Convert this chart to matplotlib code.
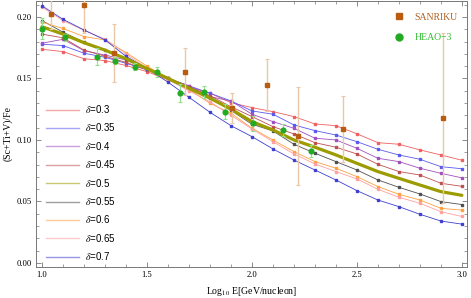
import matplotlib
matplotlib.use("Agg")
import matplotlib.pyplot as plt
from matplotlib.lines import Line2D
from matplotlib.ticker import MultipleLocator, FormatStrFormatter

plt.rcParams["font.family"] = "Liberation Serif"
plt.rcParams["mathtext.fontset"] = "stix"

# ---------------- data ----------------
log_e = [1.0, 1.1, 1.2, 1.3, 1.4, 1.5, 1.6, 1.7, 1.8, 1.9, 2.0,
         2.1, 2.2, 2.3, 2.4, 2.5, 2.6, 2.7, 2.8, 2.9, 3.0]

d030 = [0.1737, 0.1718, 0.1660, 0.1645, 0.1605, 0.1555, 0.1490, 0.1430, 0.1380, 0.1303, 0.1263,
        0.1230, 0.1190, 0.1130, 0.1116, 0.1050, 0.0978, 0.0965, 0.0919, 0.0878, 0.0835]
d035 = [0.1778, 0.1767, 0.1705, 0.1672, 0.1623, 0.1570, 0.1500, 0.1440, 0.1380, 0.1317, 0.1236,
        0.1209, 0.1122, 0.1076, 0.1040, 0.0986, 0.0924, 0.0878, 0.0843, 0.0783, 0.0766]
d040 = [0.1786, 0.1818, 0.1726, 0.1690, 0.1650, 0.1580, 0.1500, 0.1440, 0.1352, 0.1317, 0.1209,
        0.1149, 0.1095, 0.1014, 0.1000, 0.0932, 0.0851, 0.0824, 0.0770, 0.0729, 0.0692]
d045 = [0.1860, 0.1830, 0.1730, 0.1680, 0.1630, 0.1570, 0.1500, 0.1430, 0.1360, 0.1270, 0.1190,
        0.1108, 0.1049, 0.0978, 0.0941, 0.0886, 0.0802, 0.0743, 0.0715, 0.0648, 0.0623]
d050 = [0.1920, 0.1860, 0.1790, 0.1730, 0.1660, 0.1580, 0.1500, 0.1420, 0.1340, 0.1250, 0.1149,
        0.1081, 0.1000, 0.0941, 0.0878, 0.0810, 0.0743, 0.0688, 0.0634, 0.0580, 0.0550]
d055 = [0.1970, 0.1876, 0.1794, 0.1732, 0.1660, 0.1580, 0.1500, 0.1420, 0.1340, 0.1240, 0.1128,
        0.1073, 0.0965, 0.0892, 0.0824, 0.0756, 0.0675, 0.0615, 0.0561, 0.0499, 0.0475]
d060 = [0.1957, 0.1906, 0.1840, 0.1813, 0.1710, 0.1600, 0.1500, 0.1410, 0.1298, 0.1217, 0.1095,
        0.1000, 0.0905, 0.0824, 0.0770, 0.0702, 0.0621, 0.0558, 0.0512, 0.0444, 0.0430]
d065 = [0.2079, 0.1970, 0.1890, 0.1820, 0.1700, 0.1580, 0.1490, 0.1400, 0.1310, 0.1200, 0.1090,
        0.0986, 0.0886, 0.0805, 0.0743, 0.0683, 0.0599, 0.0534, 0.0485, 0.0417, 0.0378]
d070 = [0.2090, 0.1980, 0.1894, 0.1813, 0.1680, 0.1580, 0.1470, 0.1347, 0.1225, 0.1116, 0.1027,
        0.0927, 0.0837, 0.0756, 0.0675, 0.0588, 0.0512, 0.0458, 0.0396, 0.0341, 0.0316]

deltas = ["0.3", "0.35", "0.4", "0.45", "0.5", "0.55", "0.6", "0.65", "0.7"]
curves = [d030, d035, d040, d045, d050, d055, d060, d065, d070]
colors = ["#f06060", "#5a5af0", "#a050c0", "#c05050", "#9c9c00",
          "#505050", "#ffa040", "#ffa0a0", "#4040d0"]

san_x = [1.043, 1.200, 1.341, 1.681, 1.903, 2.070, 2.220, 2.435, 2.911]
san_y = [0.2022, 0.2098, 0.1705, 0.1555, 0.1258, 0.1447, 0.1033, 0.1087, 0.1176]
san_err = [0.012, 0.023, 0.0235, 0.019, 0.012, 0.021, 0.040, 0.027, 0.069]

heao_x = [1.000, 1.110, 1.260, 1.348, 1.443, 1.546, 1.657, 1.773, 1.871, 2.003, 2.146, 2.280]
heao_y = [0.1905, 0.1835, 0.1677, 0.1645, 0.1596, 0.1555, 0.1380, 0.1388, 0.1230, 0.1136, 0.1081, 0.0913]
heao_err = [0.0085, 0.003, 0.007, 0.003, 0.003, 0.004, 0.0072, 0.005, 0.006, 0.006, 0.005, 0.005]

# ---------------- figure ----------------
fig = plt.figure(figsize=(4.71, 2.98), dpi=100)
ax = fig.add_axes([0.0764, 0.104, 0.915, 0.893])

for d, ys, c in zip(deltas, curves, colors):
    if d == "0.5":
        ax.plot(log_e, ys, color=c, lw=2.3, solid_capstyle="round", zorder=4)
    else:
        ax.plot(log_e, ys, color=c, lw=0.6, marker="s", ms=1.6, mec=c, mfc=c, zorder=3)

ax.errorbar(san_x, san_y, yerr=san_err, fmt="s", color="#b85c10", ms=3.2,
            ecolor="#e8c8a8", elinewidth=1.0, capsize=1.5, capthick=0.8, zorder=5)
ax.errorbar(heao_x, heao_y, yerr=heao_err, fmt="o", color="#22aa22", ms=3.4,
            ecolor="#90e090", elinewidth=0.8, capsize=1.5, capthick=0.8, zorder=6)

ax.set_xlim(0.9714, 3.024)
ax.set_ylim(-0.00325, 0.213)
ax.xaxis.set_major_locator(MultipleLocator(0.5))
ax.xaxis.set_minor_locator(MultipleLocator(0.1))
ax.yaxis.set_major_locator(MultipleLocator(0.05))
ax.yaxis.set_minor_locator(MultipleLocator(0.01))
ax.xaxis.set_major_formatter(FormatStrFormatter("%.1f"))
ax.yaxis.set_major_formatter(FormatStrFormatter("%.2f"))
ax.tick_params(which="both", direction="in", top=True, right=True,
               labeltop=False, labelright=False, color="#777777", labelsize=6.2, pad=3)
ax.tick_params(which="major", length=3.5, width=0.6)
ax.tick_params(which="minor", length=2, width=0.5)
for s in ax.spines.values():
    s.set_color("#777777")
    s.set_linewidth(0.7)

ax.set_xlabel(r"Log$_{10}$ E[GeV/nucleon]", fontsize=7, labelpad=4)
ax.set_ylabel("(Sc+Ti+V)/Fe", fontsize=7, labelpad=3)

# delta legend (lighter handles, as in the reference)
handles = [Line2D([], [], color=c, lw=1.0, alpha=0.55) for c in colors]
labels = [r"$\delta$=" + d for d in deltas]
leg1 = ax.legend(handles, labels, loc="upper left", bbox_to_anchor=(0.0232, 0.6165),
                 frameon=False, borderpad=0, borderaxespad=0, handlelength=3.4,
                 handletextpad=0.6, labelspacing=0.66,
                 prop={"family": "Liberation Sans", "size": 7})
ax.add_artist(leg1)

h2 = [Line2D([], [], ls="none", marker="s", color="#b85c10", ms=4),
      Line2D([], [], ls="none", marker="o", color="#22aa22", ms=5)]
leg2 = ax.legend(h2, ["SANRIKU", "HEAO\u22123"], loc="upper left",
                 bbox_to_anchor=(0.8306, 0.956), frameon=False, borderpad=0,
                 borderaxespad=0, handlelength=1.0, handletextpad=1.1,
                 labelspacing=1.2, labelcolor=["#b06020", "#33bb33"],
                 prop={"family": "Liberation Serif", "size": 7})

fig.savefig("out.png", dpi=100)
